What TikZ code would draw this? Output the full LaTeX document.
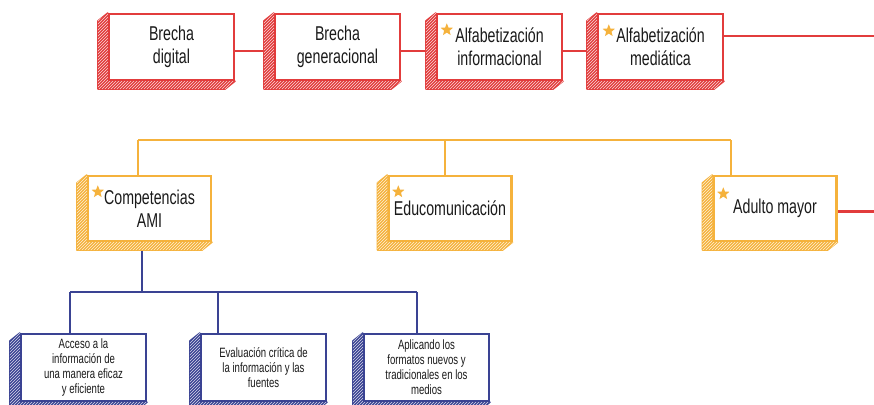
\documentclass[tikz,border=0pt]{standalone}
\usepackage{fontspec}
\setmainfont{Liberation Sans}[FakeStretch=0.71]
\usepackage{tikz}
\usetikzlibrary{backgrounds,patterns,shapes.geometric}

\definecolor{redc}{HTML}{E23C3C}
\definecolor{orangec}{HTML}{F5B23C}
\definecolor{bluec}{HTML}{3A4393}
\definecolor{textc}{HTML}{1A1A1A}

% hatched side faces behind a box
\newcommand{\extrude}[2]{%
  \draw[#2, fill=#2, line width=1.2pt, line join=round,
        postaction={pattern=north east lines, pattern color=white!80!#2}]
    (#1.north west) -- ++(-10pt,-8pt) |- ([shift={(-10pt,-8pt)}]#1.south east)
    -- (#1.south east) -- (#1.south west) -- cycle;}

\begin{document}
\begin{tikzpicture}[x=1pt,y=1pt,
  box/.style={draw, fill=white, line width=2.4pt, inner sep=0pt, align=center, text=textc},
  red node/.style={box, draw=redc, minimum width=125pt, minimum height=66pt, font=\fontsize{20}{23}\selectfont},
  orange node/.style={box, draw=orangec, minimum width=123pt, minimum height=65pt, font=\fontsize{20}{23}\selectfont},
  blue node/.style={box, draw=bluec, minimum width=125pt, minimum height=67pt, font=\fontsize{13.5}{15}\selectfont},
  star mark/.style={star, star points=5, star point ratio=2.3, fill=orangec, inner sep=0pt, minimum size=13pt},
  redline/.style={redc, line width=2.4pt},
  orangeline/.style={orangec, line width=2.4pt},
  blueline/.style={bluec, line width=2.4pt}]
\useasboundingbox (0,0) rectangle (874,-404);
        %nodes
          \node[red node] (1) at (171.5,-47) {Brecha\\digital};
          \node[red node] (2) [right of=1, node distance=166pt] {Brecha\\generacional};
          \node[red node] (3) [right of=2, node distance=162pt] {Alfabetización\\informacional};
          \node[red node] (4) [right of=3, node distance=161pt] {Alfabetización\\mediática};

          \node[orange node] (5) at (149.5,-208.5) {Competencias\\AMI};
          \node[orange node] (6) [right of=5, node distance=300.5pt] {\raisebox{-6pt}{Educomunicación}};
          \node[orange node] (7) [right of=6, node distance=325pt] {\raisebox{-3.5pt}{Adulto mayor}};

          \node[blue node] (8) at (83.5,-367.5) {Acceso a la\\información de\\una manera eficaz\\y eficiente};
          \node[blue node] (9) [right of=8, node distance=180pt] {Evaluación crítica de\\la información y las\\fuentes};
          \node[blue node] (10) [right of=9, node distance=163pt] {Aplicando los\\formatos nuevos y\\tradicionales en los\\medios};

          \foreach \n in {1,2,3,4} {\extrude{\n}{redc}}
          \foreach \n in {5,6,7} {\extrude{\n}{orangec}}
          \foreach \n in {8,9,10} {\extrude{\n}{bluec}}

          \node[star mark] (s3) at ([shift={(11pt,-17pt)}]3.north west) {};
          \node[star mark] (s4) at ([shift={(12pt,-18pt)}]4.north west) {};
          \node[star mark] (s5) at ([shift={(11pt,-17pt)}]5.north west) {};
          \node[star mark] (s6) at ([shift={(11pt,-17pt)}]6.north west) {};
          \node[star mark] (s7) at ([shift={(11pt,-19pt)}]7.north west) {};

          \coordinate (r1) at (874,-36);
          \coordinate (r2) at (874,-211.5);
          \coordinate (o1) at (138,-140);
          \coordinate (o2) at (445,-140);
          \coordinate (o3) at (731,-140);
          \coordinate (u0) at (142,-292);
          \coordinate (u1) at (70,-292);
          \coordinate (u2) at (218,-292);
          \coordinate (u3) at (417,-292);
        %Edges
        \begin{pgfonlayer}{background}
          \draw[redline] ([yshift=-4pt]1.east) -- ([yshift=-4pt]2.west);
          \draw[redline] ([yshift=-4pt]2.east) -- ([yshift=-4pt]3.west);
          \draw[redline] ([yshift=-4pt]3.east) -- ([yshift=-4pt]4.west);
          \draw[redline] ([yshift=11pt]4.east) -- (r1);
          \draw[redline] ([yshift=-3pt]7.east) -- (r2);

          \draw[orangeline] (o1) -- (o3);
          \draw[orangeline] (o1) -- (o1 |- 5.north);
          \draw[orangeline] (o2) -- (o2 |- 6.north);
          \draw[orangeline] (o3) -- (o3 |- 7.north);

          \draw[blueline] (u0 |- 5.south) -- (u0);
          \draw[blueline] (u1) -- (u3);
          \draw[blueline] (u1) -- (u1 |- 8.north);
          \draw[blueline] (u2) -- (u2 |- 9.north);
          \draw[blueline] (u3) -- (u3 |- 10.north);
        \end{pgfonlayer}
\end{tikzpicture}
\end{document}
